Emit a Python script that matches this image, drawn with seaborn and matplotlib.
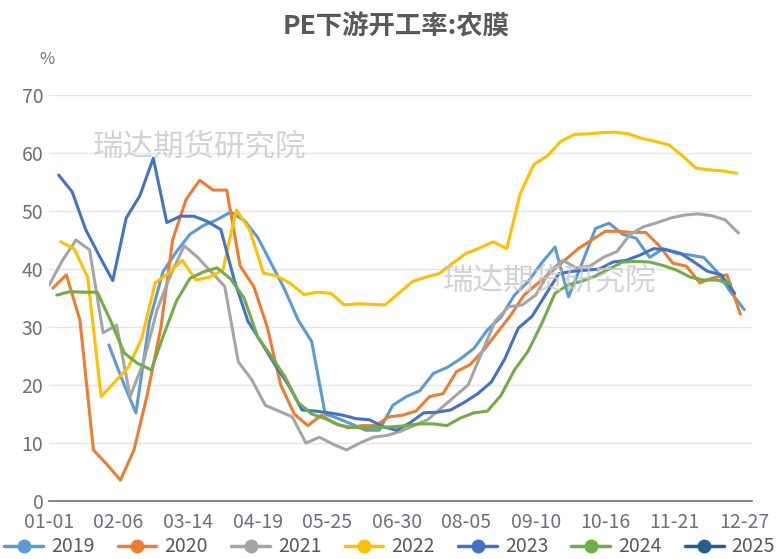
import pandas as pd
import seaborn as sns
import matplotlib.pyplot as plt
from matplotlib.lines import Line2D

# weekly data, first report date of each year
start_2019, start_2020, start_2021 = '2019-02-01', '2020-01-03', '2021-01-01'
start_2022, start_2023, start_2024 = '2022-01-07', '2023-01-06', '2024-01-05'

y2019 = [26.9, 20.8, 15.2, 31.0, 39.5, 43.0, 46.0, 47.5, 48.5, 49.8, 48.4, 45.5,
         41.0, 36.5, 31.2, 27.5, 15.0, 14.2, 13.2, 12.2, 12.2, 16.5, 18.0, 19.0,
         22.0, 23.0, 24.5, 26.3, 29.5, 31.7, 35.5, 37.8, 41.0, 43.8, 35.2, 41.0,
         47.0, 47.9, 46.0, 45.3, 42.0, 43.5, 42.7, 42.4, 42.0, 39.5, 36.0, 33.0]
y2020 = [36.7, 39.0, 31.2, 8.8, 6.3, 3.6, 8.8, 18.5, 30.0, 45.0, 52.0, 55.3,
         53.6, 53.6, 40.5, 37.0, 30.0, 20.0, 15.0, 13.0, 14.8, 13.4, 12.6, 13.0,
         13.0, 14.5, 14.8, 15.5, 18.0, 18.5, 22.3, 23.5, 26.0, 29.0, 32.0, 35.5,
         37.5, 39.5, 41.5, 43.5, 45.0, 46.5, 46.5, 46.3, 46.3, 44.0, 41.0, 40.5,
         37.6, 38.5, 39.0, 32.2]
y2021 = [37.2, 41.5, 45.0, 43.3, 29.0, 30.3, 18.0, 24.0, 33.0, 39.0, 44.0, 42.0,
         39.5, 37.0, 24.0, 20.9, 16.5, 15.5, 14.5, 10.0, 11.0, 9.8, 8.8, 10.0,
         11.0, 11.3, 12.0, 13.0, 14.0, 16.0, 18.0, 20.0, 25.5, 31.0, 33.5, 33.8,
         35.5, 39.5, 41.5, 40.2, 40.5, 42.0, 43.0, 46.0, 47.3, 48.0, 48.8, 49.3,
         49.5, 49.2, 48.5, 46.2]
y2022 = [44.7, 43.5, 38.6, 18.0, 20.5, 23.0, 28.0, 37.6, 39.3, 41.5, 38.1, 38.6,
         39.8, 50.2, 46.7, 39.3, 38.8, 37.5, 35.6, 36.0, 35.8, 33.8, 34.0, 33.9,
         33.8, 35.8, 37.8, 38.6, 39.2, 41.0, 42.7, 43.6, 44.7, 43.5, 53.0, 58.0,
         59.5, 62.0, 63.2, 63.3, 63.5, 63.6, 63.3, 62.5, 62.0, 61.4, 59.5, 57.4,
         57.1, 56.9, 56.5]
y2023 = [56.2, 53.3, 46.8, 42.3, 38.0, 48.8, 52.6, 59.1, 48.0, 49.1, 49.1, 48.2,
         46.8, 38.0, 31.0, 27.3, 23.5, 20.0, 15.7, 15.5, 15.2, 14.8, 14.2, 14.0,
         12.8, 12.2, 13.5, 15.2, 15.3, 15.7, 17.0, 18.5, 20.5, 24.5, 29.8, 31.8,
         35.5, 39.2, 39.6, 39.8, 40.0, 41.2, 41.5, 42.4, 43.5, 43.3, 42.7, 41.2,
         39.6, 39.0, 35.8]
y2024 = [35.5, 36.1, 36.0, 36.0, 31.0, 25.5, 23.7, 22.6, 28.3, 34.5, 38.4, 39.5,
         40.2, 38.3, 35.0, 28.3, 25.0, 21.5, 17.0, 15.0, 14.2, 13.1, 12.7, 12.6,
         12.7, 12.8, 13.0, 13.3, 13.3, 13.0, 14.3, 15.2, 15.5, 18.2, 22.6, 25.8,
         30.5, 35.8, 37.3, 37.9, 38.8, 40.0, 41.2, 41.3, 41.2, 40.6, 39.8, 38.6,
         38.1, 38.1, 37.4]
y2025 = []

years = ['2019', '2020', '2021', '2022', '2023', '2024', '2025']
starts = [start_2019, start_2020, start_2021, start_2022, start_2023, start_2024, '2025-01-03']
values = [y2019, y2020, y2021, y2022, y2023, y2024, y2025]
colors = ['#5B9BD5', '#ED7D31', '#A5A5A5', '#FFC000', '#4472C4', '#70AD47', '#255E91']
tick_labels = ['01-01', '02-06', '03-14', '04-19', '05-25', '06-30',
               '08-05', '09-10', '10-16', '11-21', '12-27']

# put every year on a common month-day axis (day index in a 365 day year)
base = pd.Timestamp('2021-01-01')
rows = []
for yr, st, vals in zip(years, starts, values):
    dates = pd.date_range(st, periods=len(vals), freq='7D')
    for d, v in zip(dates, vals):
        md = d.strftime('%m-%d')
        if md == '02-29':
            md = '02-28'
        day = (pd.Timestamp('2021-' + md) - base).days
        rows.append({'year': yr, 'day': day, 'value': v})
df = pd.DataFrame(rows)
tick_pos = [(pd.Timestamp('2021-' + t) - base).days for t in tick_labels]

sns.set_style('white')
plt.rcParams['font.family'] = ['Noto Sans CJK SC', 'DejaVu Sans']

fig = plt.figure(figsize=(7.79, 5.59), dpi=100)
ax = fig.add_axes([49 / 779, 1 - 501 / 559, (752 - 49) / 779, (501 - 95) / 559])

palette = dict(zip(years, colors))
sns.lineplot(data=df, x='day', y='value', hue='year', hue_order=years[:-1],
             palette=palette, linewidth=2.2, legend=False, ax=ax, sort=False)

ax.set_xlim(0, 364)
ax.set_ylim(0, 70)
ax.set_yticks(range(0, 71, 10))
ax.set_xticks(tick_pos)
ax.set_xticklabels(tick_labels)
ax.set_xlabel('')
ax.set_ylabel('')
ax.grid(axis='y', color='#E0E6F1', linewidth=1)
ax.set_axisbelow(True)
for s in ['top', 'right', 'left']:
    ax.spines[s].set_visible(False)
ax.spines['bottom'].set_color('#6E7079')
ax.spines['bottom'].set_linewidth(1.2)
ax.tick_params(axis='x', colors='#6E7079', labelcolor='#6E7079', labelsize=14,
               length=5, width=1.2, direction='out', pad=3)
ax.tick_params(axis='y', labelcolor='#6E7079', labelsize=14, length=0, pad=4)

# watermark
ax.text(78, 61, '瑞达期货研究院', fontsize=22, color='#C8C8C8', alpha=0.8,
        ha='center', va='center', zorder=5)
ax.text(259, 38, '瑞达期货研究院', fontsize=22, color='#C8C8C8', alpha=0.8,
        ha='center', va='center', zorder=5)

fig.text(396 / 779, 1 - 26 / 559, 'PE下游开工率:农膜', fontsize=19, fontweight='bold',
         color='#595959', ha='center', va='center')
fig.text(47 / 779, 1 - 60 / 559, '%', fontsize=12, color='#6E7079', ha='center', va='center')

handles = [Line2D([0], [0], color=c, lw=2.5, marker='o', markersize=9) for c in colors]
fig.legend(handles, years, loc='center', bbox_to_anchor=(0.5, 1 - 547 / 559), ncol=7,
           frameon=False, fontsize=14, handlelength=2.0, handletextpad=0.4,
           columnspacing=1.2, labelcolor='#595959')

fig.savefig('out.png', dpi=100)
